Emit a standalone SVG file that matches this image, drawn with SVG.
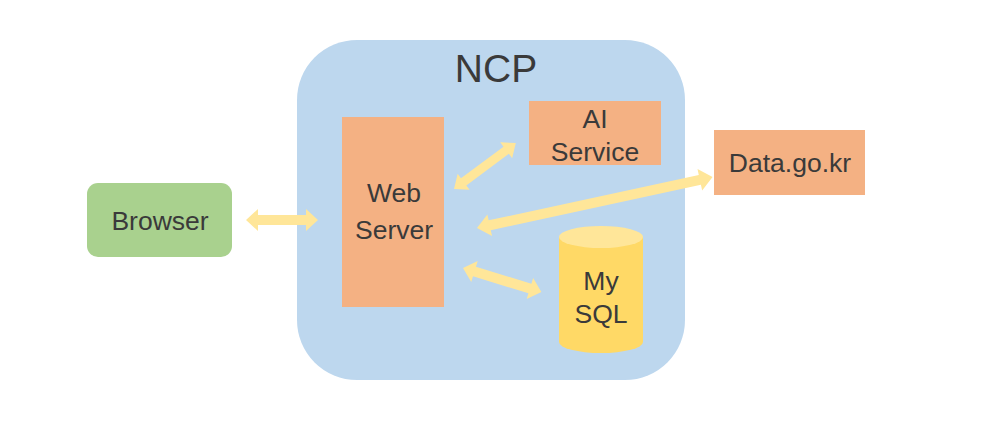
<svg xmlns="http://www.w3.org/2000/svg" width="985" height="427" viewBox="0 0 985 427">
<style>
.t{font-family:"Liberation Sans",Arial,sans-serif;fill:#3a3a3a;text-anchor:middle;font-size:26.5px}
.box{fill:#F4B183}
.arr{fill:#FFE699}
</style>
<rect width="985" height="427" fill="#fff"/>
<g id="ncp">
<rect x="297" y="40" width="388" height="340" rx="60" fill="#BDD7EE"/>
<text class="t" x="496" y="82" style="font-size:39px">NCP</text>
</g>
<g id="browser">
<rect x="87" y="183" width="145" height="74" rx="11" fill="#A9D18E"/>
<text class="t" x="160" y="230">Browser</text>
</g>
<g id="webserver">
<rect class="box" x="342" y="117" width="102" height="190"/>
<text class="t" x="394" y="202">Web</text>
<text class="t" x="394" y="239">Server</text>
</g>
<g id="aiservice">
<rect class="box" x="529" y="101" width="132" height="64"/>
<text class="t" x="595" y="128">AI</text>
<text class="t" x="595" y="161">Service</text>
</g>
<g id="datagokr">
<rect class="box" x="714" y="130" width="151" height="65"/>
<text class="t" x="790" y="172">Data.go.kr</text>
</g>
<g id="mysql">
<path d="M559 237 L559 342 A42 11 0 0 0 643 342 L643 237 Z" fill="#FFD966"/>
<ellipse cx="601" cy="237" rx="42" ry="11" fill="#FFE699"/>
<text class="t" x="601" y="290">My</text>
<text class="t" x="601" y="323">SQL</text>
</g>
<g id="connectors">
<polygon class="arr" transform="translate(246,220)" points="0,0 12,-11 12,-5 60,-5 60,-11 72,0 60,11 60,5 12,5 12,11"/>
<polygon class="arr" transform="translate(454,189) rotate(-36.6)" points="0,0 12,-10 12,-4.5 65,-4.5 65,-10 77,0 65,10 65,4.5 12,4.5 12,10"/>
<polygon class="arr" transform="translate(477,228) rotate(-12.2)" points="0,0 13,-11 13,-5 228,-5 228,-11 241,0 228,11 228,5 13,5 13,11"/>
<polygon class="arr" transform="translate(463,268) rotate(17.1)" points="0,0 12,-11 12,-5 70,-5 70,-11 82,0 70,11 70,5 12,5 12,11"/>
</g>
</svg>
